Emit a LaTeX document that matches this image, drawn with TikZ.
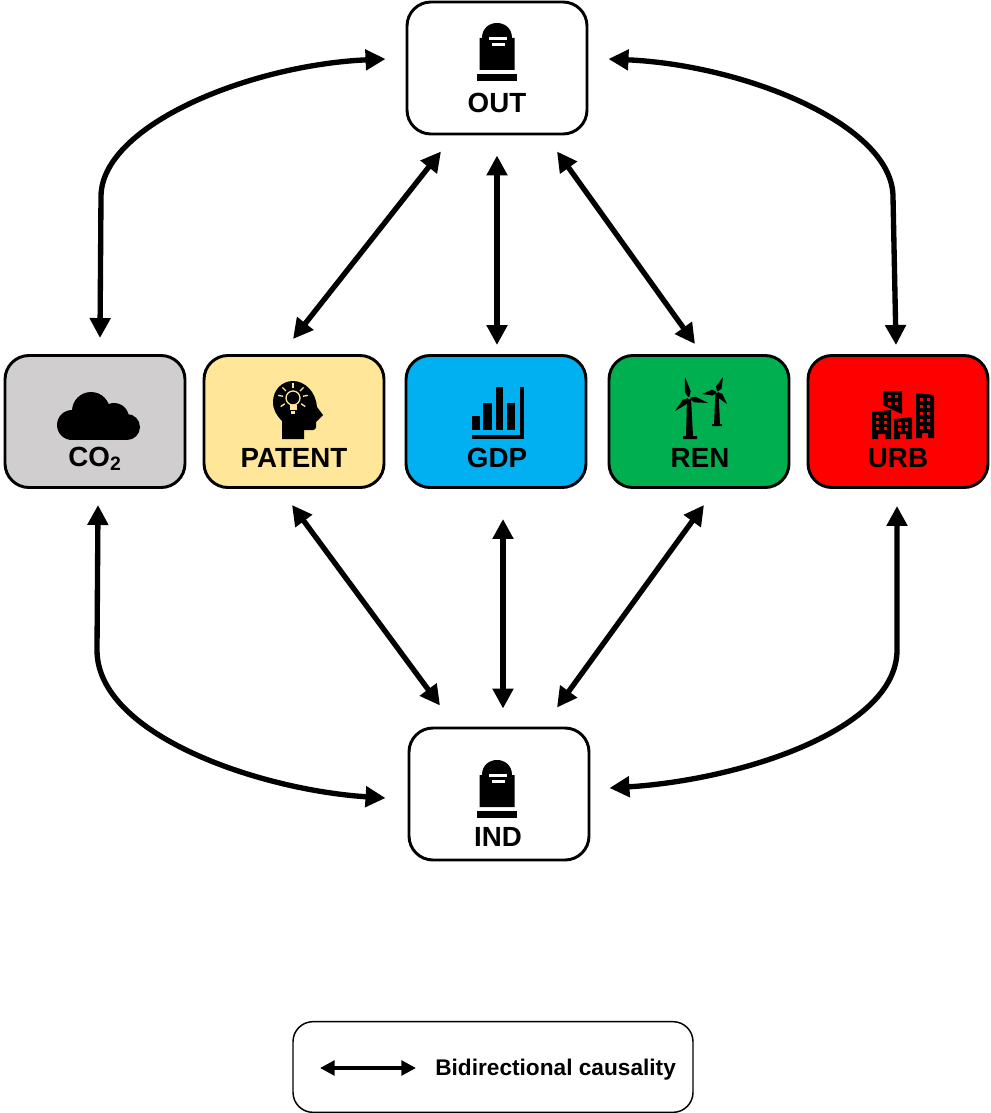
\documentclass[tikz,border=0pt]{standalone}
\usepackage{fontspec}
\setmainfont{Liberation Sans}
\usetikzlibrary{arrows.meta,calc}
\definecolor{cogray}{HTML}{D0CECE}
\definecolor{patyellow}{HTML}{FFE699}
\definecolor{gdpblue}{HTML}{00B0F0}
\definecolor{rengreen}{HTML}{00B050}
\tikzset{
	varbox/.style={draw,rounded corners=18pt,line width=2.2pt,minimum width=135pt,minimum height=99pt,inner sep=0},
	varname/.style={font=\bfseries\fontsize{20.8}{24}\selectfont,inner sep=0},
	causal/.style={line width=4pt,{Triangle[length=15pt,width=15pt]}-{Triangle[length=15pt,width=15pt]}},
	tomb/.pic={
		\fill (-17.5,18) -- (-17.5,-14) -- (-15,-14) .. controls (-15,-34) and (15,-34) .. (15,-14)
			-- (17.5,-14) -- (17.5,18) -- cycle;
		\fill (-20,22) rectangle (20,29);
		\fill[white] (-8,-15) rectangle (10,-12);
		\fill[white] (-5,-9) rectangle (8,-6);
	},
}
\begin{document}
\begin{tikzpicture}[x=.75pt,y=-.75pt]
\useasboundingbox (0,0) rectangle (990,1113);
% boxes
\node[varbox,fill=white] (OUT) at (497,68) {};
\node[varbox,fill=cogray] (CO) at (95,421.5) {};
\node[varbox,fill=patyellow] (PATENT) at (294,421.5) {};
\node[varbox,fill=gdpblue] (GDP) at (496,421.5) {};
\node[varbox,fill=rengreen] (REN) at (699,421.5) {};
\node[varbox,fill=red] (URB) at (898,421.5) {};
\node[varbox,fill=white] (IND) at (499,794) {};
\node[draw,rounded corners=15pt,line width=1.1pt,minimum width=300pt,minimum height=68pt,inner sep=0] (LEG) at (493,1067) {};
% names
\node[varname] (OUTname) at (497,103) {OUT};
\node[varname] (COname) at (95,459) {CO\textsubscript{2}};
\node[varname] (PATENTname) at (294,458) {PATENT};
\node[varname] (GDPname) at (497,458) {GDP};
\node[varname] (RENname) at (700,458) {REN};
\node[varname] (URBname) at (898,458) {URB};
\node[varname] (INDname) at (498,837) {IND};
\node[font=\bfseries\fontsize{17}{20}\selectfont,inner sep=0,anchor=west] (LEGname) at (435,1070) {Bidirectional causality};
\coordinate (LEGa) at (320,1068);
\coordinate (LEGb) at (416,1068);
% icons
\pic at (497,52) {tomb};
\pic at (497,789) {tomb};
% cloud
\fill (72,425) circle (15);
\fill (91,411) circle (19);
\fill (114,418) circle (15);
\fill (127,427) circle (13);
\fill (72,425) rectangle (127,440);
% head
\fill (282,439) -- (304,439) -- (304,430) -- (313,430) .. controls (317,430) and (316,425) .. (316,422)
	-- (319,419) -- (323,415) -- (317,407) .. controls (316,392) and (305,381) .. (293,381)
	.. controls (281,381) and (273,391) .. (273,402) .. controls (273,410) and (277,416) .. (282,421) -- cycle;
\draw[patyellow,line width=1pt] (293,398) circle (7);
\fill[patyellow] (289.5,405) rectangle (296.5,410);
\fill[patyellow] (291,411) rectangle (295,414);
\foreach \ang in {-170,-135,-90,-45,-10,35,145}
	\draw[patyellow,line width=1pt] (293,398) ++(\ang:10) -- ++(\ang:5);
% bar chart
\foreach \xa/\xb/\ytop in {472/480/416,483/492/403,496/503/387,507/515/403}
	\fill (\xa,\ytop) rectangle (\xb,430);
\fill (520,387) rectangle (524,439);
\fill (472,435) rectangle (524,439);
% wind turbines
\fill (687,398) -- (691,398) -- (693,436) -- (697,436) -- (697,439) -- (683,439) -- (683,436) -- (686,436) -- cycle;
\fill (715.5,392) -- (718.5,392) -- (720,424) -- (722,424) -- (722,426) -- (712,426) -- (712,424) -- (714,424) -- cycle;
\foreach \hx/\hy/\bx/\by in {689/398/685/377,689/398/708/403,689/398/675/411,717/392/723/377,717/392/702/394,717/392/727/404}
	\fill (\hx,\hy) -- ($(\hx,\hy)!.3!(\bx,\by)!2.2pt!90:(\bx,\by)$) -- (\bx,\by) -- ($(\hx,\hy)!.3!(\bx,\by)!2.2pt!-90:(\bx,\by)$) -- cycle;
\fill[rengreen] (689,398) circle (1.5);
\fill[rengreen] (717,392) circle (1.2);
% buildings
\fill (872,412) -- (891,410) -- (891,439) -- (885,439) -- (885,434) -- (878,434) -- (878,439) -- (872,439) -- cycle;
\fill (883,391) -- (902,391) -- (902,414) -- (893,410) -- (883,405) -- cycle;
\fill (894,419) -- (912,417) -- (912,439) -- (906,439) -- (906,434) -- (900,434) -- (900,439) -- (894,439) -- cycle;
\fill (916,393) -- (934,395) -- (934,438) -- (928,438) -- (928,433) -- (922,433) -- (922,438) -- (916,438) -- cycle;
\foreach \wx in {876,884}
	\foreach \wy in {415,421,427}
		\fill[red] (\wx,\wy) rectangle ++(3,3);
\foreach \wx in {888,895}
	\foreach \wy in {395,402}
		\fill[red] (\wx,\wy) rectangle ++(3,3);
\foreach \wx in {898,905}
	\foreach \wy in {422,428}
		\fill[red] (\wx,\wy) rectangle ++(3,3);
\foreach \wx in {920,927}
	\foreach \wy in {398,405,412,419,426}
		\fill[red] (\wx,\wy) rectangle ++(3,3);
% arrows
\draw[causal] ([shift={(5,-16)}]CO.north) -- ([shift={(6,-158)}]CO.north)
	.. controls (102,125) and (250,65) .. ([shift={(-20,-9)}]OUT.west);
\draw[causal] ([shift={(20,-9)}]OUT.east) .. controls (745,65) and (893,125) .. (893,197) -- ([shift={(-2,-9)}]URB.north);
\draw[causal] ([shift={(-1,-15)}]PATENT.north) -- ([shift={(-56,16)}]OUT.south);
\draw[causal] ([shift={(1,-9)}]GDP.north) -- ([shift={(0,20)}]OUT.south);
\draw[causal] ([shift={(-4,-10)}]REN.north) -- ([shift={(60,16)}]OUT.south);
\draw[causal] ([shift={(-2,16)}]PATENT.south) -- ([shift={(-59,-21)}]IND.north);
\draw[causal] ([shift={(7,30)}]GDP.south) -- ([shift={(4,-18)}]IND.north);
\draw[causal] ([shift={(5,16)}]REN.south) -- ([shift={(58,-19)}]IND.north);
\draw[causal] ([shift={(3,16)}]CO.south) -- (97,650)
	.. controls (97,735) and (260,790) .. ([shift={(-22,4)}]IND.west);
\draw[causal] ([shift={(-1,17)}]URB.south) -- (897,650)
	.. controls (897,730) and (740,780) .. ([shift={(19,-6)}]IND.east);
\draw[line width=3pt,{Triangle[length=11pt,width=11pt]}-{Triangle[length=11pt,width=11pt]}] (LEGa) -- (LEGb);
\end{tikzpicture}
\end{document}
